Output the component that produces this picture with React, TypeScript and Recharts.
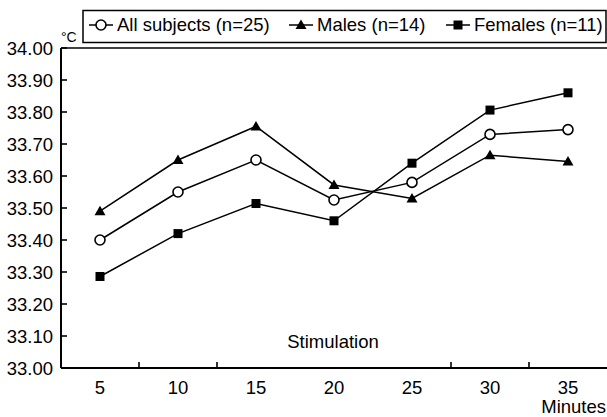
import React from 'react';
import { LineChart, Line, XAxis, YAxis, ReferenceLine } from 'recharts';

const minutes = [5, 10, 15, 20, 25, 30, 35];
const allSubjects = [33.4, 33.55, 33.65, 33.525, 33.58, 33.73, 33.745];
const males = [33.49, 33.65, 33.755, 33.572, 33.53, 33.665, 33.645];
const females = [33.286, 33.42, 33.514, 33.46, 33.64, 33.806, 33.86];
const yTicks = [33.0, 33.1, 33.2, 33.3, 33.4, 33.5, 33.6, 33.7, 33.8, 33.9, 34.0];
// small marks between the minute labels (only these show on the axis)
const xMarks = [7.5, 12.5, 27.5, 32.5];

const legendItems = [
  { name: 'All subjects (n=25)', shape: 'circle', x: 89 },
  { name: 'Males (n=14)', shape: 'triangle', x: 289 },
  { name: 'Females (n=11)', shape: 'square', x: 446 },
];

const data = minutes.map((m, i) => ({
  minute: m,
  all: allSubjects[i],
  males: males[i],
  females: females[i],
}));

const FONT = '"Liberation Sans", Arial, sans-serif';
const FS = 18.5;

function Marker({ cx, cy, shape }: { cx: number; cy: number; shape: string }) {
  if (cx == null || cy == null) return null;
  if (shape === 'circle') {
    return <circle cx={cx} cy={cy} r={5} fill="#fff" stroke="#000" strokeWidth={1.6} />;
  }
  if (shape === 'triangle') {
    return (
      <path
        d={`M${cx},${cy - 5.5} L${cx + 5.5},${cy + 4} L${cx - 5.5},${cy + 4} Z`}
        fill="#000"
      />
    );
  }
  return <rect x={cx - 4.5} y={cy - 4.5} width={9} height={9} fill="#000" />;
}

const XTick = (props: any) => {
  const { x, y, payload } = props;
  const v = payload.value;
  if (minutes.includes(v)) {
    return (
      <text x={x} y={y + 26} textAnchor="middle" fontSize={FS} fontFamily={FONT} fill="#000">
        {v}
      </text>
    );
  }
  return (
    <path d={`M${x},${y} L${x},${y - 6}`} stroke="#000" strokeWidth={1.6} fill="none" />
  );
};

const YTick = (props: any) => {
  const { y, payload } = props;
  return (
    <text x={53} y={y + 6.5} textAnchor="end" fontSize={FS} fontFamily={FONT} fill="#000">
      {payload.value.toFixed(2)}
    </text>
  );
};

function Overlay() {
  return (
    <svg
      width={607}
      height={417}
      style={{ position: 'absolute', left: 0, top: 0, pointerEvents: 'none' }}
      fontFamily={FONT}
    >
      <rect x={83} y={10.5} width={523} height={32} fill="#fff" stroke="#000" strokeWidth={1.5} />
      {legendItems.map((it) => (
        <g key={it.name}>
          <line x1={it.x} x2={it.x + 24} y1={25} y2={25} stroke="#000" strokeWidth={1.5} />
          <Marker cx={it.x + 12} cy={25} shape={it.shape} />
          <text x={it.x + 28} y={31} fontSize={FS} fill="#000">
            {it.name}
          </text>
        </g>
      ))}
      <text x={61} y={42} fontSize={14} fill="#000">°C</text>
      <text x={333} y={348} textAnchor="middle" fontSize={FS} fill="#000">Stimulation</text>
      <text x={606} y={413} textAnchor="end" fontSize={FS} fill="#000">Minutes</text>
    </svg>
  );
}

export default function App() {
  return (
    <div style={{ position: 'absolute', left: 0, top: 0, width: 607, height: 417, background: '#fff' }}>
      <LineChart width={607} height={417} data={data} margin={{ top: 48, right: 0, bottom: 0, left: 0 }}>
        <XAxis
          dataKey="minute"
          type="number"
          domain={[2.5, 37.5]}
          allowDataOverflow
          ticks={[...minutes, ...xMarks].sort((a, b) => a - b)}
          interval={0}
          height={49}
          tickSize={0}
          tickMargin={0}
          tickLine={false}
          tick={(p: any) => <XTick key={'x' + p.index} {...p} />}
          axisLine={{ stroke: '#000', strokeWidth: 2 }}
        />
        <YAxis
          type="number"
          domain={[33, 34]}
          ticks={yTicks}
          interval={0}
          width={61}
          tickSize={-6}
          tickMargin={0}
          tickLine={{ stroke: '#000', strokeWidth: 1.6 }}
          tick={(p: any) => <YTick key={'y' + p.index} {...p} />}
          axisLine={{ stroke: '#000', strokeWidth: 2 }}
        />
        <ReferenceLine y={34} stroke="#000" strokeWidth={1.5} />
        <Line
          dataKey="males"
          type="linear"
          stroke="#000"
          strokeWidth={1.5}
          isAnimationActive={false}
          dot={(p: any) => <Marker key={'m' + p.index} cx={p.cx} cy={p.cy} shape="triangle" />}
        />
        <Line
          dataKey="all"
          type="linear"
          stroke="#000"
          strokeWidth={1.5}
          isAnimationActive={false}
          dot={(p: any) => <Marker key={'a' + p.index} cx={p.cx} cy={p.cy} shape="circle" />}
        />
        <Line
          dataKey="females"
          type="linear"
          stroke="#000"
          strokeWidth={1.5}
          isAnimationActive={false}
          dot={(p: any) => <Marker key={'f' + p.index} cx={p.cx} cy={p.cy} shape="square" />}
        />
      </LineChart>
      <Overlay />
    </div>
  );
}
